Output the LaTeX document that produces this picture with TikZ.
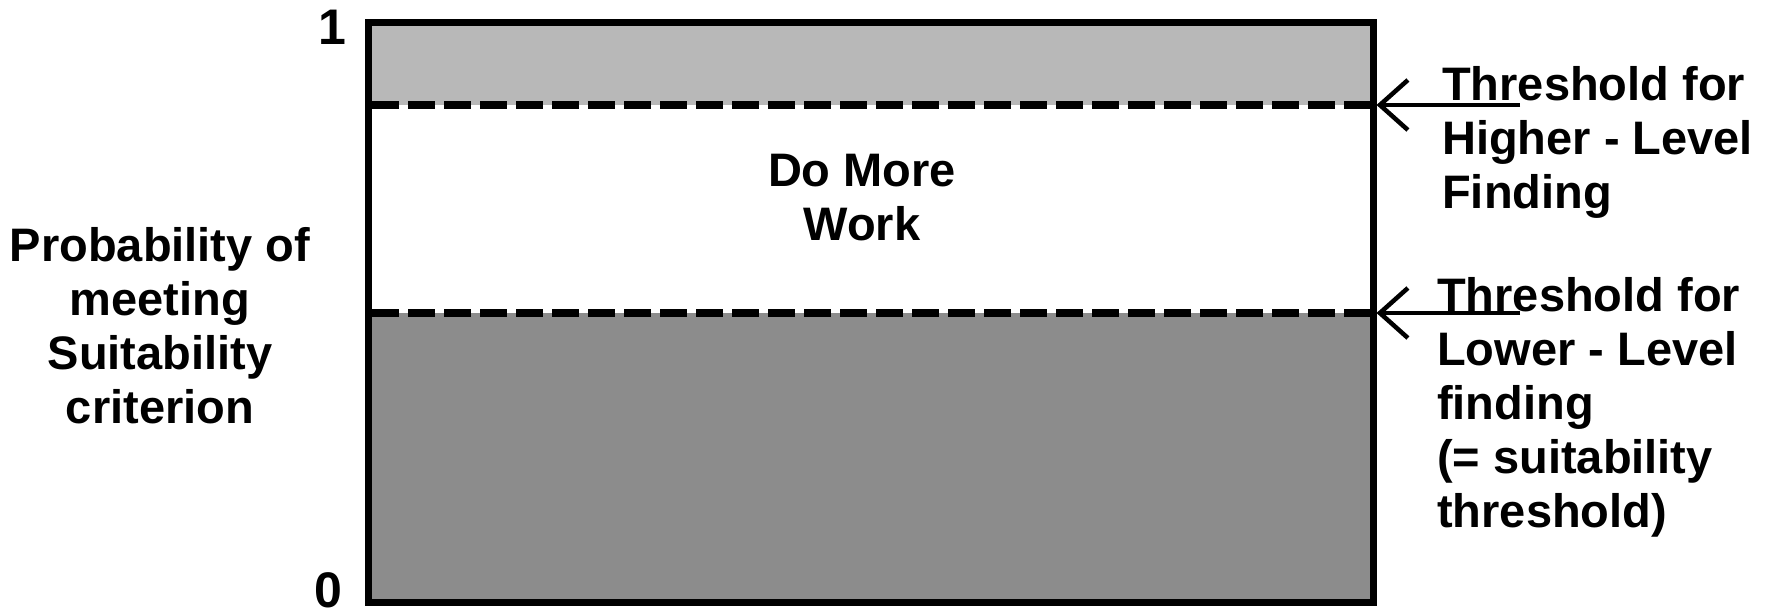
\documentclass[tikz,border=0pt]{standalone}
\usepackage{fontspec}
\setmainfont{Liberation Sans}
\usetikzlibrary{arrows.meta}
\begin{document}
\begin{tikzpicture}[x=1pt,y=-1pt,
  lbl/.style={font=\bfseries\fontsize{47}{54}\selectfont, inner sep=0pt},
  thr/.style={line width=8pt, dash pattern=on 27pt off 9pt},
  ptr/.style={line width=4.5pt, -{Straight Barb[length=28pt,width=50pt]}},
  ]
\useasboundingbox (0,0) rectangle (1780,615);
% bands
\fill[black!28] (368,23) rectangle (1373,105);
\fill[black!45] (368,313) rectangle (1373,602);
\draw[thr] (372,105) -- (1370,105);
\draw[thr] (372,313) -- (1370,313);
\node[draw, line width=7pt, minimum width=1005pt, minimum height=579pt, inner sep=0pt] (frame) at (870.5,312.5) {};
% labels (base anchor = baseline of last line)
\node[lbl, anchor=base east, font=\bfseries\fontsize{50}{54}\selectfont] (one) at (347,45) {1};
\node[lbl, anchor=base east, font=\bfseries\fontsize{50}{54}\selectfont] (zero) at (343,607) {0};
\node[lbl, align=center, anchor=base] (ylab) at (160,423) {Probability of\\meeting\\Suitability\\criterion};
\node[lbl, align=center, anchor=base] (work) at (862,240) {Do More\\Work};
\node[lbl, align=left, anchor=base west] (hiTxt) at (1442,208) {Threshold for\\Higher - Level\\Finding};
\node[lbl, align=left, anchor=base west] (loTxt) at (1437,527) {Threshold for\\Lower - Level\\finding\\(= suitability\\threshold)};
% arrows
\coordinate (hiTail) at (1520,105);
\coordinate (loTail) at (1520,313);
\draw[ptr] (hiTail) -- (frame.east |- hiTail);
\draw[ptr] (loTail) -- (frame.east |- loTail);
\end{tikzpicture}
\end{document}
